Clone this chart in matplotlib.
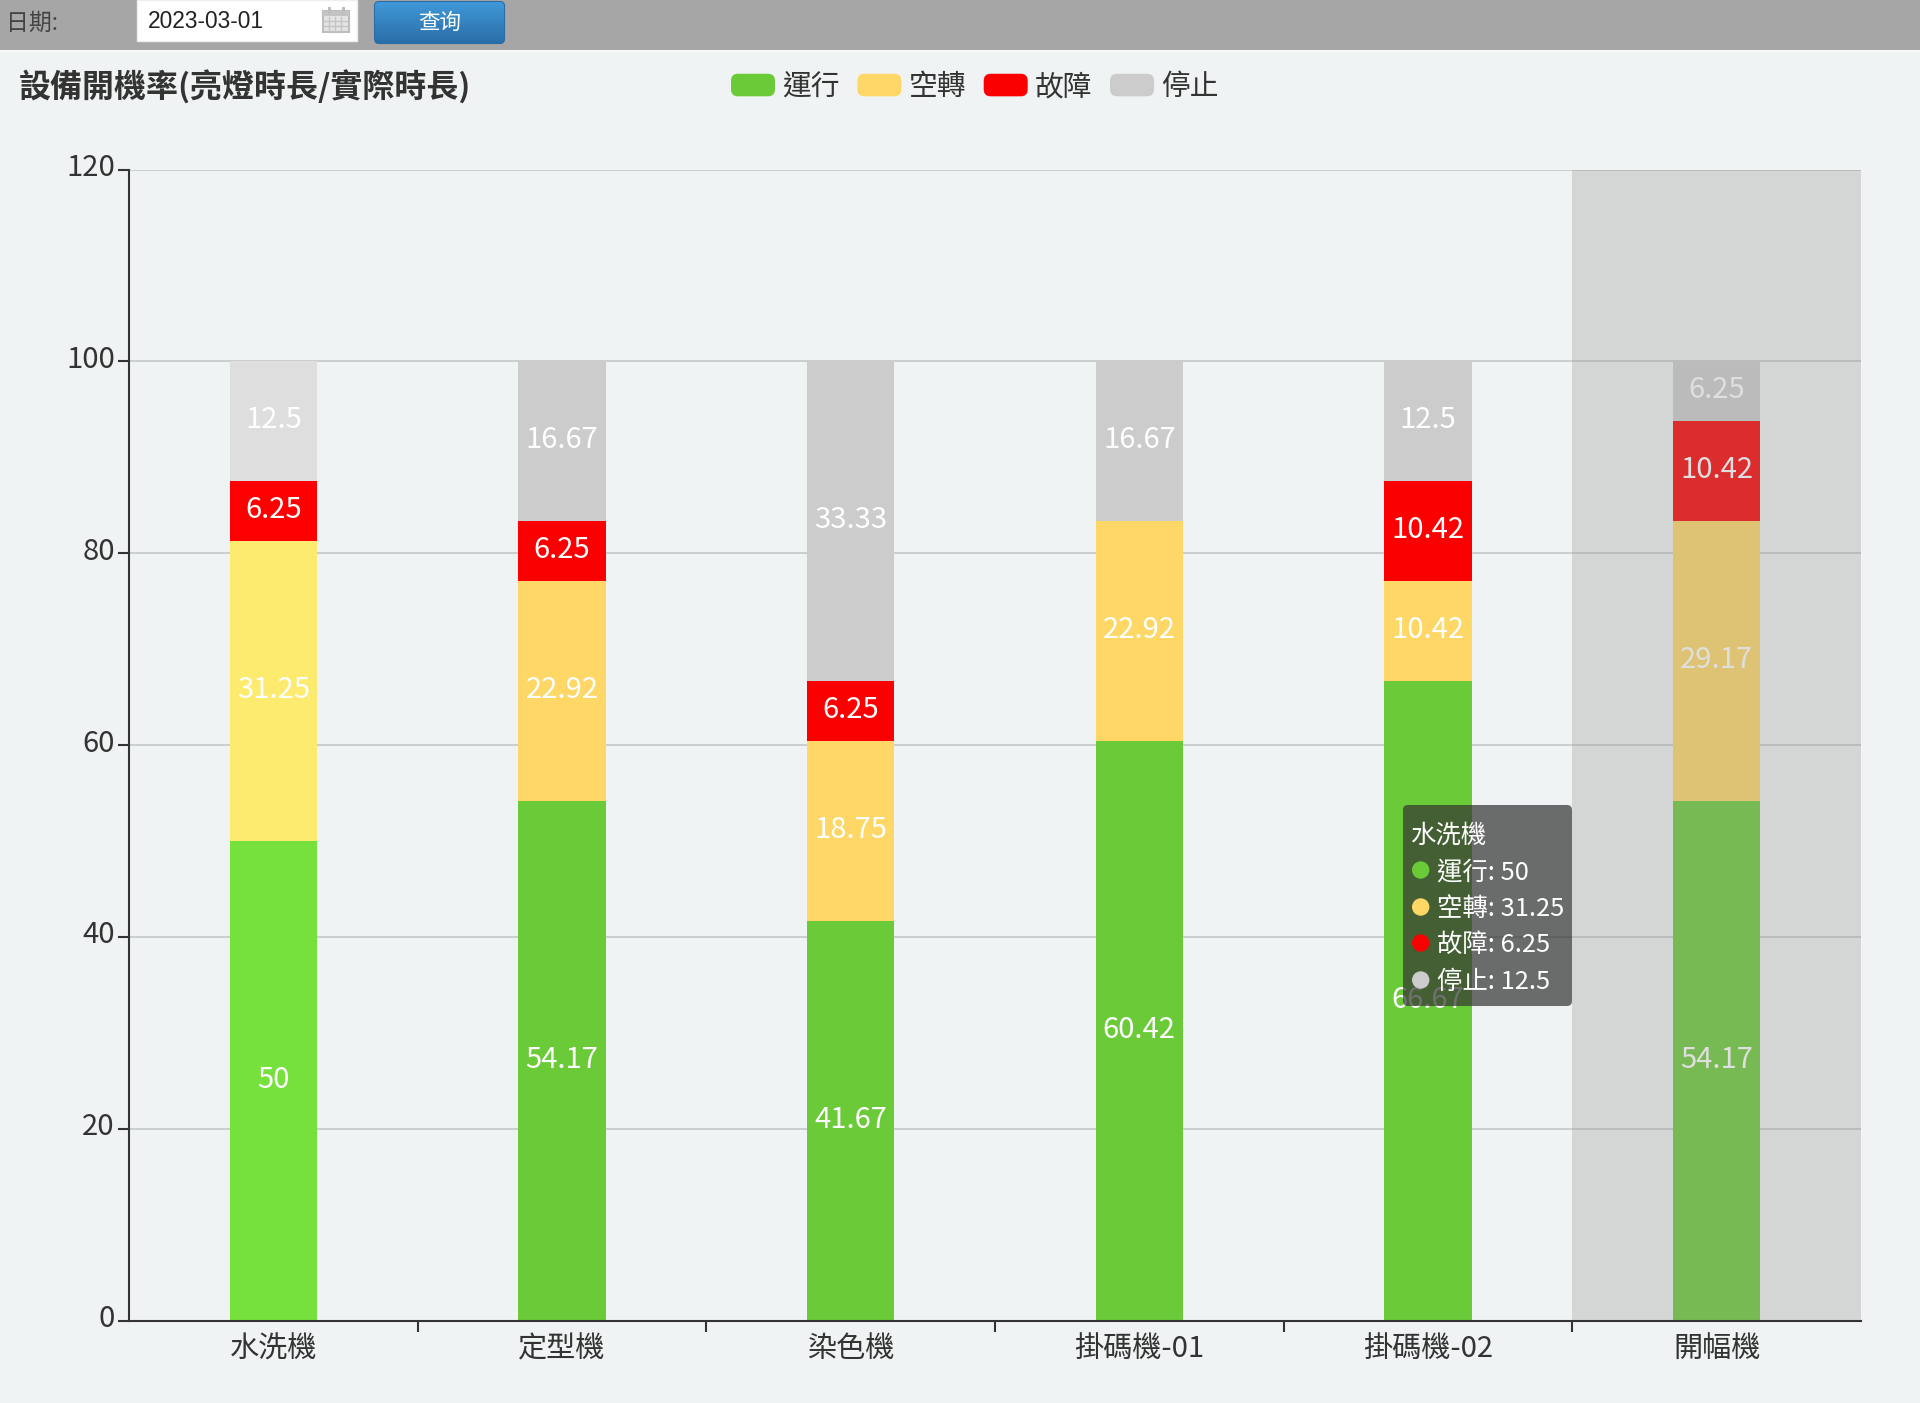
import numpy as np
import matplotlib
matplotlib.use("Agg")
import matplotlib.pyplot as plt
from matplotlib.patches import FancyBboxPatch, Rectangle, Circle
from matplotlib.legend_handler import HandlerPatch
from matplotlib.transforms import ScaledTranslation

plt.rcParams['font.family'] = ['Noto Sans CJK TC', 'DejaVu Sans']

categories = ['水洗機', '定型機', '染色機', '掛碼機-01', '掛碼機-02', '開幅機']
series_names = ['運行', '空轉', '故障', '停止']
running = [50, 54.17, 41.67, 60.42, 66.67, 54.17]
idle = [31.25, 22.92, 18.75, 22.92, 10.42, 29.17]
fault = [6.25, 6.25, 6.25, 0, 10.42, 10.42]
stopped = [12.5, 16.67, 33.33, 16.67, 12.5, 6.25]
series_values = [running, idle, fault, stopped]
base_colors = ['#6bca37', '#fed766', '#fa0000', '#cccccc']
emph_colors = ['#76e03d', '#fdeb70', '#ff0000', '#dedede']
y_ticks = [0, 20, 40, 60, 80, 100, 120]
emph_index = 0
pointer_index = 5

BG = '#eff3f3'
W, H = 1920, 1403
fig = plt.figure(figsize=(W / 100, H / 100), dpi=100, facecolor=BG)
L, R, T, B = 129, 1861, 169.5, 1320.5
ax = fig.add_axes([L / W, 1 - B / H, (R - L) / W, (B - T) / H], facecolor=BG)

ax.set_xlim(-0.5, len(categories) - 0.5)
ax.set_ylim(0, 120)
ax.set_yticks(y_ticks)
ax.yaxis.grid(True, color='#c8cdcd', lw=1.4, zorder=1)
ax.set_axisbelow(True)
ax.set_xticks(range(len(categories)))
ax.set_xticklabels(categories, fontsize=21, color='#333333')
ax.set_xticks(np.arange(1, len(categories)) - 0.5, minor=True)
ax.tick_params(axis='x', which='major', length=0, pad=10)
ax.tick_params(axis='x', which='minor', length=8, width=1.5, color='#333333')
ax.tick_params(axis='y', length=8, width=1.5, color='#333333', labelsize=21,
               labelcolor='#333333', pad=2.3)
up = ScaledTranslation(0, 5 / 100, fig.dpi_scale_trans)
for lab in ax.get_yticklabels():
    lab.set_transform(lab.get_transform() + up)
for s in ('top', 'right'):
    ax.spines[s].set_visible(False)
for s in ('left', 'bottom'):
    ax.spines[s].set_color('#333333')
    ax.spines[s].set_linewidth(1.5)
    ax.spines[s].set_zorder(6)

x = np.arange(len(categories))
bottom = np.zeros(len(categories))
handles = []
for vals, name, col, emph in zip(series_values, series_names, base_colors, emph_colors):
    vals = np.array(vals, dtype=float)
    cols = [emph if i == emph_index else col for i in range(len(vals))]
    ax.bar(x, vals, 0.303, bottom=bottom, color=cols, linewidth=0, zorder=2, label=name)
    handles.append(Rectangle((0, 0), 1, 1, facecolor=col, edgecolor='none', label=name))
    for xi, v, b in zip(x, vals, bottom):
        if v > 0:
            ax.annotate(f'{v:g}', (xi, b + v / 2), xytext=(0, 0.7), textcoords='offset points',
                        ha='center', va='center', color='white', fontsize=21, zorder=3,
                        annotation_clip=False)
    bottom += vals

ax.axvspan(pointer_index - 0.5, pointer_index + 0.5, facecolor=(150 / 255, 150 / 255, 150 / 255, 0.3),
           edgecolor='none', zorder=4)


class RoundHandler(HandlerPatch):
    def create_artists(self, legend, orig, xd, yd, width, height, fontsize, trans):
        p = FancyBboxPatch((-xd + 4, -yd + 4), width - 8, height - 8,
                           boxstyle='round,pad=4,rounding_size=5',
                           facecolor=orig.get_facecolor(), edgecolor='none', transform=trans)
        return [p]


leg = ax.legend(handles=handles, handler_map={Rectangle: RoundHandler()}, ncol=4,
                loc='center left', bbox_to_anchor=(731 / W, 1 - 87 / H),
                bbox_transform=fig.transFigure, frameon=False, prop={'size': 20.7},
                labelcolor='#333333', handlelength=1.53, handleheight=0.83,
                handletextpad=0.25, columnspacing=0.615, borderpad=0, borderaxespad=0)

# page chrome and tooltip drawn in pixel coordinates
ov = fig.add_axes([0, 0, 1, 1], facecolor='none', zorder=10)
ov.set_xlim(0, W)
ov.set_ylim(H, 0)
ov.axis('off')

ov.add_patch(Rectangle((0, 0), W, 50, facecolor='#a6a6a6', edgecolor='none'))
ov.add_patch(Rectangle((0, 50), W, 2, facecolor='#f7f8f8', edgecolor='none'))
ov.text(6, 23, '日期:', fontsize=16.5, color='#444444', va='center', ha='left')
ov.add_patch(Rectangle((137, 0), 220, 41, facecolor='white', edgecolor='#eeeeee', lw=1))
ov.text(148, 22, '2023-03-01', fontsize=16.4, color='#222222', va='center', ha='left',
        family=['Liberation Sans', 'DejaVu Sans'])
# calendar icon
ov.add_patch(Rectangle((323, 11), 26, 21, facecolor='#e4e4e4', edgecolor='#bdbdbd', lw=1.5))
ov.add_patch(Rectangle((323, 11), 26, 5, facecolor='#c4c4c4', edgecolor='none'))
for cx in (329, 343):
    ov.add_patch(Rectangle((cx - 1, 7), 2.5, 7, facecolor='#bdbdbd', edgecolor='none'))
for cx in (329, 335, 341):
    ov.plot([cx, cx], [17, 32], color='#c4c4c4', lw=1)
for cy in (21, 26):
    ov.plot([323, 349], [cy, cy], color='#c4c4c4', lw=1)

# query button
btn = FancyBboxPatch((375, 2), 129, 41, boxstyle='round,pad=0,rounding_size=4',
                     facecolor='#2f7ab8', edgecolor='#2a6ba3', lw=1.5)
ov.add_patch(btn)
grad = np.linspace(0, 1, 64)[:, None, None] * (np.array([0x2a, 0x6e, 0xa8]) - np.array([0x40, 0x98, 0xd8])) \
    + np.array([0x40, 0x98, 0xd8])
im = ov.imshow(grad / 255, extent=(375, 504, 43, 2), aspect='auto', zorder=2)
im.set_clip_path(btn)
ov.set_xlim(0, W)
ov.set_ylim(H, 0)
ov.text(440, 23, '查询', fontsize=15.5, color='white', va='center', ha='center', zorder=3,
        family=['Noto Sans CJK SC', 'DejaVu Sans'])

ov.text(19, 88, '設備開機率(亮燈時長/實際時長)', fontsize=23, fontweight='bold', color='#333333',
        va='center', ha='left')

# tooltip for the emphasised category
ov.add_patch(FancyBboxPatch((1403, 805), 169, 201, boxstyle='round,pad=0,rounding_size=5',
                            facecolor=(50 / 255, 50 / 255, 50 / 255, 0.7), edgecolor='none', zorder=5))
ov.text(1410, 836, categories[emph_index], color='white', fontsize=18.3, va='center', ha='left', zorder=6)
for row_y, name, vals, col in zip((870, 907, 943, 980), series_names, series_values, base_colors):
    ov.add_patch(Circle((1420.7, row_y), 8.7, facecolor=col, edgecolor='none', zorder=6))
    ov.text(1437, row_y + 2, f'{name}: {vals[emph_index]:g}', color='white', fontsize=18.3,
            va='center', ha='left', zorder=6)

fig.savefig('out.png', dpi=100, facecolor=BG)
